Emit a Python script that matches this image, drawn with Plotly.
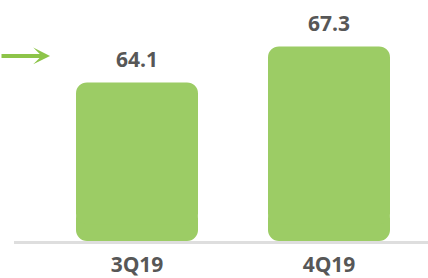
import plotly.graph_objects as go

categories = ["3Q19", "4Q19"]
values = [64.1, 67.3]
value_labels = ["64.1", "67.3"]
axis_floor = 50.0

BAR_COLOR = "#9ccc65"
TEXT_COLOR = "#575757"
FONT = "Open Sans"

BAR_W = 122 / 192
mid = axis_floor + 1.5
bar_marker = dict(color=BAR_COLOR, line=dict(width=0), cornerradius=11)
fig = go.Figure()
# lower part: rounded bottom corners
fig.add_trace(go.Bar(
    x=categories, y=[axis_floor - (mid + 1.5)] * len(values), base=[mid + 1.5] * len(values),
    marker=bar_marker, width=BAR_W, hoverinfo="skip", showlegend=False))
# upper part: rounded top corners
fig.add_trace(go.Bar(
    x=categories, y=[v - mid for v in values], base=[mid] * len(values),
    marker=bar_marker, width=BAR_W, hoverinfo="skip", showlegend=False))

for c, v, t in zip(categories, values, value_labels):
    fig.add_annotation(x=c, y=v, text=t, showarrow=False, yanchor="bottom",
                       yshift=7, font=dict(family=FONT, size=21, color=TEXT_COLOR, weight="bold"))

# green pointer arrow on the left
fig.add_annotation(xref="paper", yref="paper", x=0.087, y=0.768, text="",
                   showarrow=True, ax=-60, ay=0, axref="pixel", ayref="pixel",
                   arrowhead=3, arrowsize=0.7, arrowwidth=4, arrowcolor="#8dc449",
                   standoff=0, startstandoff=0)

fig.update_layout(
    width=428, height=278,
    margin=dict(l=14, r=0, t=0, b=37, autoexpand=False),
    paper_bgcolor="white", plot_bgcolor="white",
    barmode="overlay", hovermode=False,
    xaxis=dict(range=[-123 / 192, 1 + 99 / 192], showgrid=False, zeroline=False, automargin=False,
               showline=True, linecolor="#dedede", linewidth=3,
               ticks="outside", ticklen=3, tickcolor="rgba(0,0,0,0)",
               tickfont=dict(family=FONT, size=21, color=TEXT_COLOR, weight="bold")),
    yaxis=dict(range=[axis_floor, axis_floor + 241 / 11.25], visible=False, automargin=False,
               showgrid=False, zeroline=False),
)

fig.write_html("out.html", config={"displayModeBar": False, "staticPlot": True},
               post_script="document.body.style.margin='0';document.body.style.overflow='hidden';")
